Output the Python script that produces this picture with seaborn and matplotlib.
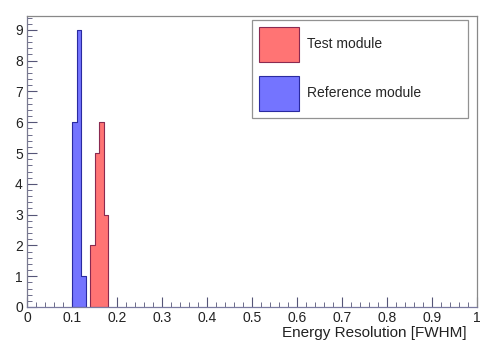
import numpy as np
import pandas as pd
import matplotlib
matplotlib.use("Agg")
import matplotlib.pyplot as plt
from matplotlib.ticker import MultipleLocator, AutoMinorLocator
from matplotlib.patches import Patch
import seaborn as sns

# Histogram contents: left bin edges and counts per module
bin_width = 0.01
test_bins = [0.14, 0.15, 0.16, 0.17]
test_counts = [2, 5, 6, 3]
ref_bins = [0.10, 0.11, 0.12]
ref_counts = [6, 9, 1]

labels = ["Test module", "Reference module"]
fill_colors = ["#ff7474", "#7474ff"]
edge_colors = ["#8a2a50", "#2a2aa0"]

sns.set_theme(style="white")
plt.rcParams["font.family"] = ["Liberation Sans", "DejaVu Sans"]

fig = plt.figure(figsize=(4.81, 3.40), dpi=100)
ax = fig.add_axes([27 / 481, 1 - 307 / 340, 450 / 481, 291 / 340])

frames = []
for name, lo, cnt in [(labels[0], test_bins, test_counts), (labels[1], ref_bins, ref_counts)]:
    centers = np.asarray(lo) + bin_width / 2
    frames.append(pd.DataFrame({"x": centers, "w": cnt, "module": name}))
df = pd.concat(frames, ignore_index=True)

for name, fc, ec in zip(labels, fill_colors, edge_colors):
    sub = df[df["module"] == name]
    sns.histplot(data=sub, x="x", weights="w", binwidth=bin_width,
                 binrange=(sub["x"].min() - bin_width / 2, sub["x"].max() + bin_width / 2),
                 element="step", fill=True, color=fc, alpha=1.0,
                 edgecolor=ec, linewidth=0.8, ax=ax)

ax.set_xlim(0, 1)
ax.set_ylim(0, 9.45)
ax.set_ylabel("")
ax.set_xlabel("")
ax.text(0.978, -0.09, "Energy Resolution [FWHM]", transform=ax.transAxes,
        ha="right", va="center", fontsize=11, color="#222222")

ax.xaxis.set_major_locator(MultipleLocator(0.1))
ax.xaxis.set_minor_locator(AutoMinorLocator(5))
ax.yaxis.set_major_locator(MultipleLocator(1))
ax.yaxis.set_minor_locator(AutoMinorLocator(5))
ax.set_xticks(np.arange(0, 1.01, 0.1))
ax.set_xticklabels(["0"] + [f"{v:.1f}" for v in np.arange(0.1, 0.95, 0.1)] + ["1"])

ax.tick_params(axis="both", which="major", direction="in", length=7, width=0.8,
               color="#555577", labelsize=10, labelcolor="#222222",
               bottom=True, left=True, top=False, right=False)
ax.tick_params(axis="both", which="minor", direction="in", length=3.5, width=0.6,
               color="#555577", bottom=True, left=True, top=False, right=False)
ax.tick_params(axis="x", pad=3)
ax.tick_params(axis="y", pad=3)

for side in ["left", "bottom", "top", "right"]:
    ax.spines[side].set_visible(True)
    ax.spines[side].set_color("#888888")
    ax.spines[side].set_linewidth(0.9)
ax.spines["bottom"].set_color("#7a7aa0")
ax.spines["left"].set_color("#7a7a90")

handles = [Patch(facecolor=fc, edgecolor=ec, linewidth=0.8) for fc, ec in zip(fill_colors, edge_colors)]
leg = ax.legend(handles, labels, loc="upper left", bbox_to_anchor=(0.5, 0.986, 0.48, 0.0),
                mode="expand", fontsize=10, frameon=True, fancybox=False,
                handlelength=2.85, handleheight=3.5, handletextpad=0.6,
                labelspacing=1.0, borderpad=0.5, borderaxespad=0)
leg.get_frame().set_edgecolor("#777777")
leg.get_frame().set_linewidth(0.9)

fig.savefig("out.png", dpi=100)
